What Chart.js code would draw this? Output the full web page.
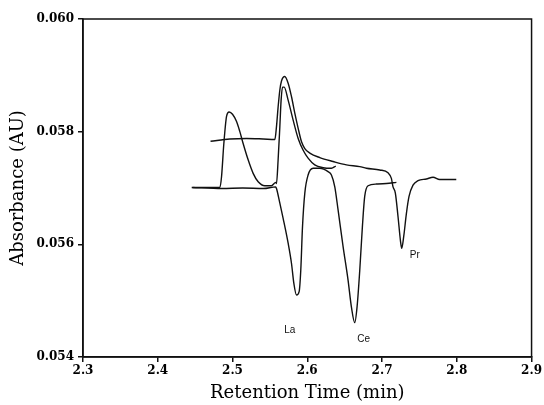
<!DOCTYPE html>
<html>
<head>
<meta charset="utf-8">
<script src="https://cdn.jsdelivr.net/npm/chart.js@4.4.1/dist/chart.umd.min.js"></script>
<style>
  html, body { margin: 0; padding: 0; background: #fff; }
  #wrap { width: 544px; height: 405px; }
</style>
</head>
<body>
<div id="wrap"><canvas id="grafico"></canvas></div>
<script>
// tempos (min) e absorbancia (AU) lidos do cromatograma
// traço 1: pico do sistema em 2.50 e outro em 2.57
const tempo1 = [2.4466, 2.4831, 2.4853, 2.4884, 2.492, 2.4955, 2.500, 2.5054, 2.5098, 2.5142, 2.5209, 2.5276, 2.5343, 2.5432, 2.5521, 2.5579,
    2.5588, 2.561, 2.5633, 2.565, 2.5669, 2.5691, 2.5744, 2.581, 2.5878, 2.5945, 2.6011, 2.610, 2.6212, 2.6323, 2.6381];
const abs1 = [0.05701, 0.05701, 0.05720, 0.05779, 0.05827, 0.05835, 0.05831, 0.05818, 0.05800, 0.05779, 0.05750, 0.05726, 0.05711, 0.05704, 0.05704, 0.05710,
    0.05708, 0.05750, 0.05809, 0.05856, 0.05879, 0.05879, 0.05856, 0.05821, 0.05788, 0.05767, 0.05753, 0.05741, 0.05736, 0.05735, 0.05739];

// traço 2: La e Ce
const tempo2 = [2.4454, 2.4858, 2.5136, 2.5415, 2.5577, 2.5588, 2.5633, 2.5677, 2.5744, 2.5789, 2.582, 2.5856, 2.5891, 2.5913, 2.5936, 2.5967,
    2.6011, 2.6078, 2.6167, 2.6278, 2.6323, 2.6368, 2.6412, 2.6479, 2.6545, 2.659, 2.6635, 2.6666, 2.6702, 2.6737, 2.6768, 2.6813,
    2.6925, 2.7058, 2.7192];
const abs2 = [0.05701, 0.05699, 0.05700, 0.05699, 0.05702, 0.05699, 0.05673, 0.05646, 0.05602, 0.05566, 0.05531, 0.05510, 0.05516, 0.05554, 0.05631, 0.05691,
    0.05723, 0.05735, 0.05735, 0.05729, 0.05723, 0.05702, 0.05661, 0.05596, 0.05537, 0.05489, 0.05461, 0.05489, 0.05554, 0.05631, 0.05685, 0.05704,
    0.05707, 0.05708, 0.05710];

// traço 3: linha de base mais alta, pico em 2.57 e Pr
const tempo3 = [2.4706, 2.4964, 2.5188, 2.5409, 2.5566, 2.5588, 2.561, 2.5633, 2.5655, 2.5699, 2.5744, 2.5789, 2.5833, 2.5878, 2.5923, 2.5967,
    2.6034, 2.6167, 2.6345, 2.6524, 2.6702, 2.6791, 2.6969, 2.708, 2.7125, 2.7147, 2.7178, 2.7214, 2.7245, 2.7263, 2.729, 2.7326,
    2.7361, 2.7414, 2.7481, 2.7593, 2.7682, 2.777, 2.7993];
const abs3 = [0.05783, 0.05787, 0.05788, 0.05787, 0.05786, 0.05809, 0.05844, 0.05874, 0.05890, 0.05898, 0.05886, 0.05862, 0.05833, 0.05806, 0.05782, 0.05770,
    0.05762, 0.05754, 0.05747, 0.05741, 0.05738, 0.05735, 0.05732, 0.05727, 0.05717, 0.05702, 0.05691, 0.05649, 0.05608, 0.05593, 0.05614, 0.05655,
    0.05685, 0.05705, 0.05713, 0.05716, 0.05719, 0.05715, 0.05715];

// rotulos dos picos
const nomesPicos = ['La', 'Ce', 'Pr'];
const tempoPicos = [2.5766, 2.6755, 2.7437];
const absPicos = [0.05447, 0.05432, 0.05581];

// ticks dos eixos
const ticksX = [2.3, 2.4, 2.5, 2.6, 2.7, 2.8, 2.9];
const ticksY = [0.054, 0.056, 0.058, 0.060];

function montarPontos(tempos, valores) {
    return tempos.map((t, i) => ({ x: t, y: valores[i] }));
}

function serie(tempos, valores) {
    return {
        data: montarPontos(tempos, valores),
        borderColor: '#111',
        borderWidth: 1.4,
        pointRadius: 0,
        fill: false,
        cubicInterpolationMode: 'monotone'
    };
}

// moldura em volta da area do grafico + nomes dos picos
const molduraPlugin = {
    id: 'moldura',
    afterDraw(chart) {
        const { ctx, chartArea, scales } = chart;
        ctx.save();
        ctx.strokeStyle = '#111';
        ctx.lineWidth = 1.5;
        ctx.strokeRect(chartArea.left, chartArea.top, chartArea.right - chartArea.left, chartArea.bottom - chartArea.top);

        ctx.fillStyle = '#111';
        ctx.font = '10px "Liberation Sans", Arial, sans-serif';
        ctx.textAlign = 'center';
        ctx.textBaseline = 'middle';
        nomesPicos.forEach((nome, i) => {
            ctx.fillText(nome, scales.x.getPixelForValue(tempoPicos[i]), scales.y.getPixelForValue(absPicos[i]));
        });
        ctx.restore();
    }
};

const fonteEixo = { family: '"DejaVu Serif", serif', size: 12, weight: 'bold' };
const fonteTitulo = { family: '"DejaVu Serif", serif', size: 18 };

new Chart(document.getElementById('grafico'), {
    type: 'line',
    data: {
        datasets: [serie(tempo1, abs1), serie(tempo2, abs2), serie(tempo3, abs3)]
    },
    options: {
        responsive: true,
        maintainAspectRatio: false,
        animation: false,
        layout: { padding: { top: 19, right: 12, left: 0, bottom: 0 } },
        plugins: {
            legend: { display: false },
            tooltip: { enabled: false }
        },
        scales: {
            x: {
                type: 'linear',
                min: 2.3,
                max: 2.9,
                afterBuildTicks: (scale) => { scale.ticks = ticksX.map(v => ({ value: v })); },
                afterFit: (scale) => { scale.height = 48; },
                ticks: {
                    color: '#000',
                    font: fonteEixo,
                    padding: 2,
                    maxRotation: 0,
                    callback: (v) => Number(v).toFixed(1)
                },
                grid: { drawOnChartArea: false, drawTicks: true, tickLength: 5, color: '#111', lineWidth: 1.5 },
                border: { display: true, color: '#111', width: 1.5 },
                title: {
                    display: true,
                    text: 'Retention Time (min)',
                    color: '#000',
                    font: fonteTitulo,
                    padding: { top: 0, bottom: 1 }
                }
            },
            y: {
                type: 'linear',
                min: 0.054,
                max: 0.060,
                afterBuildTicks: (scale) => { scale.ticks = ticksY.map(v => ({ value: v })); },
                afterFit: (scale) => { scale.width = 83; },
                ticks: {
                    color: '#000',
                    font: fonteEixo,
                    padding: 4,
                    callback: (v) => Number(v).toFixed(3)
                },
                grid: { drawOnChartArea: false, drawTicks: true, tickLength: 5, color: '#111', lineWidth: 1.5 },
                border: { display: true, color: '#111', width: 1.5 },
                title: {
                    display: true,
                    text: 'Absorbance (AU)',
                    color: '#000',
                    font: fonteTitulo,
                    padding: { top: 8, bottom: 0 }
                }
            }
        }
    },
    plugins: [molduraPlugin]
});
</script>
</body>
</html>
